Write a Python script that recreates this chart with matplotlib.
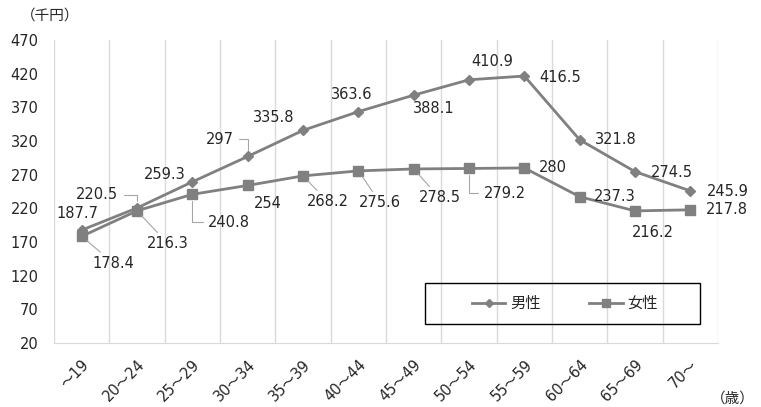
import matplotlib.pyplot as plt
from matplotlib.patches import Rectangle

plt.rcParams['font.family'] = ['DejaVu Sans', 'Noto Sans CJK JP']

ages = ["～19", "20～24", "25～29", "30～34", "35～39", "40～44",
        "45～49", "50～54", "55～59", "60～64", "65～69", "70～"]
male = [187.7, 220.5, 259.3, 297, 335.8, 363.6, 388.1, 410.9, 416.5, 321.8, 274.5, 245.9]
female = [178.4, 216.3, 240.8, 254, 268.2, 275.6, 278.5, 279.2, 280, 237.3, 216.2, 217.8]
yticks = list(range(20, 471, 50))

# label offsets in pixels (dx, dy) and leader style: None, 'line', 'angle'
male_off = [(-4, 17, None), (-40, 13, 'angle'), (-28, 7, None), (-28, 17, 'angle'),
            (-29, 13, None), (-7, 17, None), (20, -13, None), (23, 18, None),
            (36, -1, None), (36, 0, None), (37, -1, None), (37, -1, None)]
female_off = [(32, -27, 'line'), (31, -33, 'line'), (37, -28, 'angle'), (20, -18, None),
              (25, -26, 'line'), (22, -32, 'line'), (26, -29, 'line'), (36, -25, 'angle'),
              (29, 0, None), (35, 0, None), (18, -22, None), (37, 0, None)]

gray = '#808080'
txt = '#262626'

fig = plt.figure(figsize=(7.61, 4.07), dpi=100)
ax = fig.add_axes([54/761, 64/407, 664/761, 303/407])

x = list(range(len(ages)))
ax.plot(x, male, color=gray, lw=2, marker='D', ms=5.5, label='男性', zorder=3)
ax.plot(x, female, color=gray, lw=2, marker='s', ms=7, label='女性', zorder=3)

ax.set_xlim(-0.5, len(ages) - 0.5)
ax.set_ylim(20, 470)
ax.set_yticks(yticks)
ax.set_xticks(x)
ax.set_xticklabels(ages, rotation=45, ha='right', va='top', rotation_mode='anchor')
ax.set_xticks([i - 0.5 for i in range(len(ages) + 1)], minor=True)
ax.grid(True, which='minor', axis='x', color='#d9d9d9', lw=1)
ax.tick_params(which='both', length=0, colors=txt, labelsize=10.5)
ax.tick_params(axis='y', pad=11)
ax.tick_params(axis='x', pad=10)
for s in ['top', 'right', 'left']:
    ax.spines[s].set_visible(False)
ax.spines['bottom'].set_color('#d9d9d9')

def labels(vals, offs):
    for i, (v, (dx, dy, lead)) in enumerate(zip(vals, offs)):
        kw = {}
        if lead == 'line':
            kw['arrowprops'] = dict(arrowstyle='-', color='#a6a6a6', lw=0.8,
                                    shrinkA=1, shrinkB=5)
        elif lead == 'angle':
            kw['arrowprops'] = dict(arrowstyle='-', color='#a6a6a6', lw=0.8,
                                    shrinkA=2, shrinkB=5,
                                    connectionstyle='angle,angleA=0,angleB=90,rad=0')
        ax.annotate(f"{v:g}", (i, v), xytext=(dx, dy), textcoords='offset pixels',
                    ha='center', va='center', fontsize=10.5, color=txt, **kw)

labels(male, male_off)
labels(female, female_off)

fig.text(50/761, 1 - 15/407, '（千円）', ha='center', va='center', fontsize=10.5, color=txt)
fig.text(733/761, 1 - 398/407, '（歳）', ha='center', va='center', fontsize=10.5, color=txt)

fig.patches.append(Rectangle((425/761, 1 - 324/407), 275/761, 41/407, transform=fig.transFigure,
                             fill=False, edgecolor='black', lw=1))
leg = fig.legend(loc='center', bbox_to_anchor=(565/761, 1 - 303.5/407), ncol=2, frameon=False,
                 fontsize=11, handlelength=2.2, handletextpad=0.3, columnspacing=3.2,
                 markerscale=0.75)
for t in leg.get_texts():
    t.set_color(txt)

fig.savefig('out.png', dpi=100)
